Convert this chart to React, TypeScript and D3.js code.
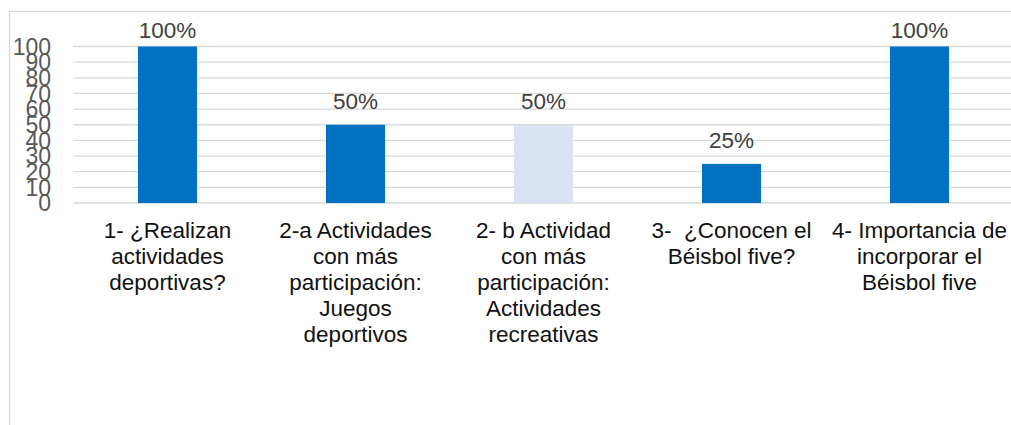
import React from "react";
import * as d3 from "d3";

const categories: string[][] = [
  ["1- ¿Realizan", "actividades", "deportivas?"],
  ["2-a Actividades", "con más", "participación:", "Juegos", "deportivos"],
  ["2- b Actividad", "con más", "participación:", "Actividades", "recreativas"],
  ["3-  ¿Conocen el", "Béisbol five?"],
  ["4- Importancia de", "incorporar el", "Béisbol five"],
];
const values: number[] = [100, 50, 50, 25, 100];
const barColors: string[] = ["#0070C0", "#0070C0", "#DAE3F3", "#0070C0", "#0070C0"];
const yTicks: number[] = [0, 10, 20, 30, 40, 50, 60, 70, 80, 90, 100];

const W = 1011;
const H = 425;
const FONT = "'Liberation Sans', Arial, Helvetica, sans-serif";

export default function App() {
  const ids = categories.map((_, i) => String(i));
  const p = 1 - 59 / 188;
  const x = d3.scaleBand<string>().domain(ids).range([73.5, 1013.5]).paddingInner(p).paddingOuter(p / 2);
  const y = d3.scaleLinear().domain([0, 100]).range([203, 46.5]);

  return (
    <svg width={W} height={H} style={{ position: "absolute", left: 0, top: 0, display: "block" }} fontFamily={FONT}>
      <rect x={0} y={0} width={W} height={H} fill="#fff" />
      <rect x={9.5} y={11.5} width={1200} height={600} fill="none" stroke="#d9d9d9" strokeWidth={1.3} />
      {yTicks.map((t) => (
        <line key={"g" + t} x1={73.5} x2={1013.5} y1={y(t)} y2={y(t)} stroke="#d9d9d9" strokeWidth={1.3} />
      ))}
      {yTicks.map((t) => (
        <text key={"t" + t} x={51} y={y(t)} dy="0.36em" textAnchor="end" fontSize={23} fill="#595959">
          {t}
        </text>
      ))}
      {values.map((v, i) => (
        <rect key={"b" + i} x={x(ids[i])} y={y(v)} width={x.bandwidth()} height={y(0) - y(v)} fill={barColors[i]} />
      ))}
      {values.map((v, i) => (
        <text
          key={"l" + i}
          x={(x(ids[i]) as number) + x.bandwidth() / 2}
          y={Math.max(y(v) - 16, 38)}
          textAnchor="middle"
          fontSize={22.5}
          fill="#404040"
        >
          {v + "%"}
        </text>
      ))}
      {categories.map((lines, i) => (
        <text
          key={"c" + i}
          x={(x(ids[i]) as number) + x.bandwidth() / 2}
          textAnchor="middle"
          fontSize={22.5}
          fill="#111"
          style={{ whiteSpace: "pre" }}
        >
          {lines.map((ln, j) => (
            <tspan key={j} x={(x(ids[i]) as number) + x.bandwidth() / 2} y={238 + j * 26}>
              {ln}
            </tspan>
          ))}
        </text>
      ))}
    </svg>
  );
}
